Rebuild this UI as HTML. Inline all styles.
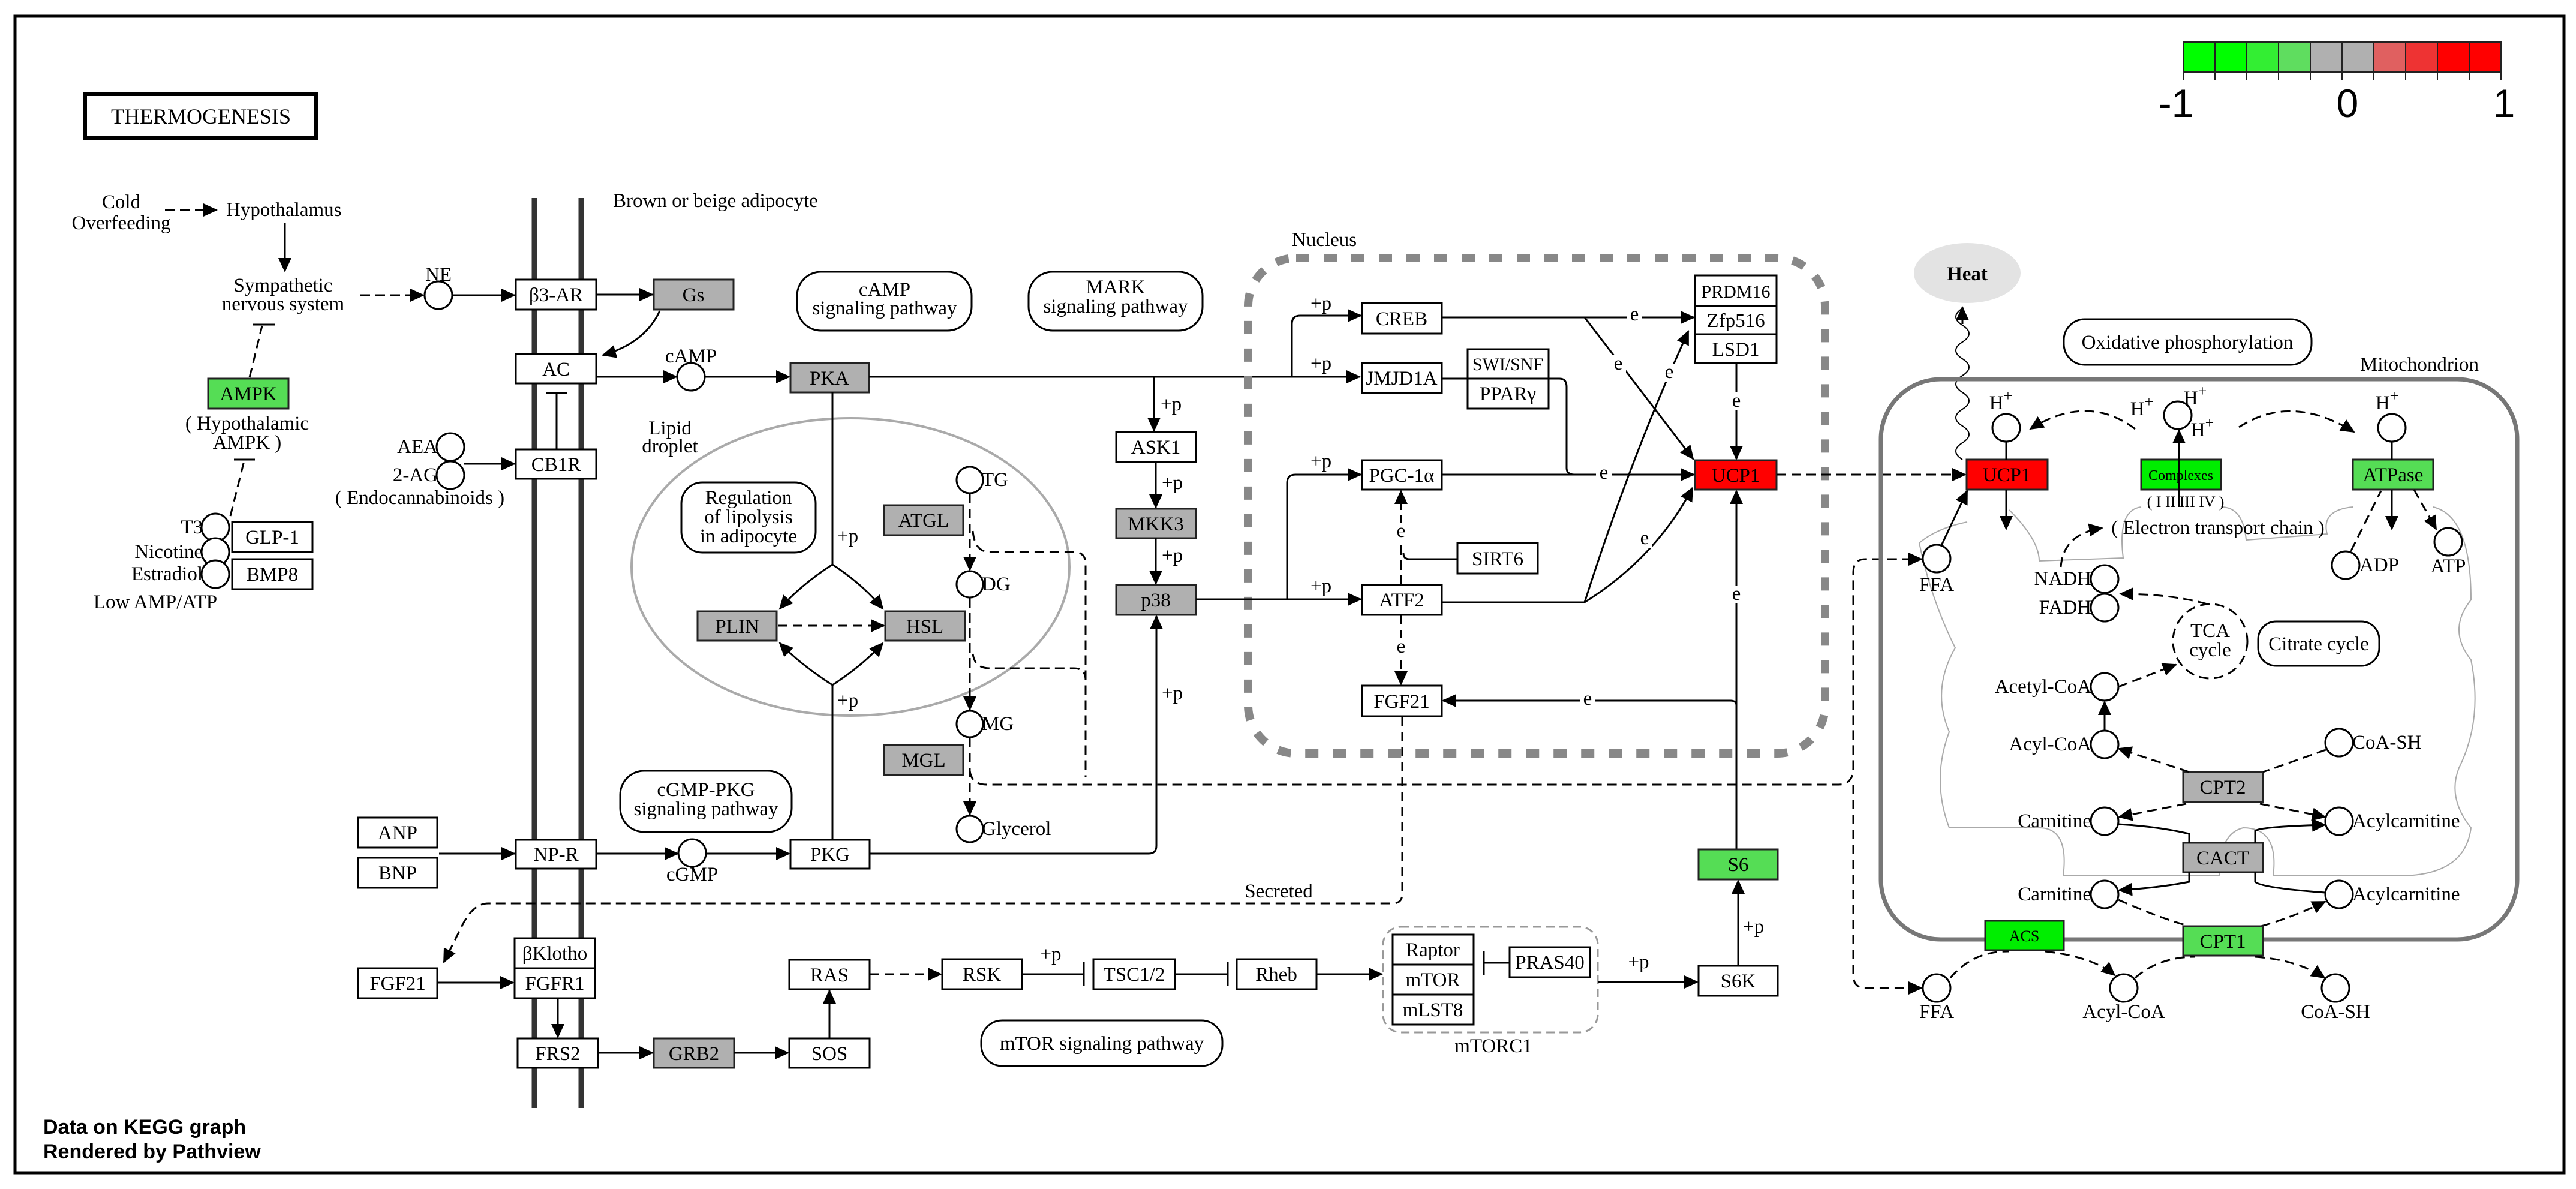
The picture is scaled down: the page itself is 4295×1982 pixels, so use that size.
<!DOCTYPE html>
<html><head><meta charset="utf-8"><style>
html,body{margin:0;padding:0;background:#fff}
svg{display:block}
text{font-family:"Liberation Serif",serif;font-size:33px;fill:#000}
.c{text-anchor:middle}
.r{text-anchor:end}
.b{fill:#fff;stroke:#000;stroke-width:3}
.g{fill:#b0b0b0;stroke:#222;stroke-width:3}
.gr{fill:#55dd55;stroke:#222;stroke-width:3}
.gb{fill:#00ee00;stroke:#222;stroke-width:3}
.rd{fill:#ff0000;stroke:#222;stroke-width:3}
.ci{fill:#fff;stroke:#000;stroke-width:3}
.rb{fill:#fff;stroke:#000;stroke-width:3}
.l{fill:none;stroke:#000;stroke-width:3}
.d{fill:none;stroke:#000;stroke-width:3;stroke-dasharray:16 9}
.bg{fill:#fff}
</style></head><body>
<svg width="4295" height="1982" viewBox="0 0 4295 1982" xmlns="http://www.w3.org/2000/svg">
<defs>
<marker id="a" markerUnits="userSpaceOnUse" markerWidth="24" markerHeight="22" refX="22" refY="11" orient="auto"><path d="M0,0 L24,11 L0,22 Z" fill="#000"/></marker>
</defs>
<rect x="0" y="0" width="4295" height="1982" fill="#fff"/>
<rect x="25" y="27" width="4250" height="1928" fill="none" stroke="#000" stroke-width="5"/>
<rect x="142" y="157" width="385" height="73" fill="#fff" stroke="#000" stroke-width="6"/>
<text x="335" y="206" class="c" style="font-size:36px">THERMOGENESIS</text>

<!-- legend -->
<g stroke="#222" stroke-width="2">
<rect x="3640" y="70" width="53" height="50" fill="#00ff00"/>
<rect x="3693" y="70" width="53" height="50" fill="#00ff00"/>
<rect x="3746" y="70" width="53" height="50" fill="#33ee33"/>
<rect x="3799" y="70" width="53" height="50" fill="#5fdd5f"/>
<rect x="3852" y="70" width="53" height="50" fill="#b0b0b0"/>
<rect x="3905" y="70" width="53" height="50" fill="#b0b0b0"/>
<rect x="3958" y="70" width="53" height="50" fill="#e06060"/>
<rect x="4011" y="70" width="53" height="50" fill="#ee3333"/>
<rect x="4064" y="70" width="53" height="50" fill="#ff0000"/>
<rect x="4117" y="70" width="53" height="50" fill="#ff0000"/>
<path d="M3640,120v14M3693,120v14M3746,120v14M3799,120v14M3852,120v14M3905,120v14M3958,120v14M4011,120v14M4064,120v14M4117,120v14M4170,120v14" fill="none"/>
</g>
<text x="3628" y="195" class="c" style="font-family:'Liberation Sans',sans-serif;font-size:66px">-1</text>
<text x="3914" y="195" class="c" style="font-family:'Liberation Sans',sans-serif;font-size:66px">0</text>
<text x="4175" y="195" class="c" style="font-family:'Liberation Sans',sans-serif;font-size:66px">1</text>

<!-- membrane -->
<path d="M891,330V1847M969,330V1847" stroke="#333" stroke-width="9" fill="none"/>
<text x="1022" y="345">Brown or beige adipocyte</text>

<!-- left region -->
<text x="202" y="347" class="c">Cold</text>
<text x="202" y="382" class="c">Overfeeding</text>
<path d="M275,350H361" class="d" marker-end="url(#a)"/>
<text x="377" y="360">Hypothalamus</text>
<path d="M475,372V452" class="l" marker-end="url(#a)"/>
<text x="472" y="486" class="c">Sympathetic</text>
<text x="472" y="517" class="c">nervous system</text>
<path d="M601,492H706" class="d" marker-end="url(#a)"/>
<circle cx="731" cy="492" r="23" class="ci"/>
<text x="731" y="468" class="c">NE</text>
<path d="M754,492H858" class="l" marker-end="url(#a)"/>
<path d="M416,629L437,543" class="d"/><path d="M421,541H458" class="l"/>
<rect x="347" y="631" width="134" height="50" class="gr"/><text x="414" y="667" class="c">AMPK</text>
<text x="412" y="716" class="c">( Hypothalamic</text>
<text x="412" y="748" class="c">AMPK )</text>
<path d="M384,860L407,768" class="d"/><path d="M390,766H425" class="l"/>
<circle cx="359" cy="879" r="23" class="ci"/><circle cx="359" cy="920" r="23" class="ci"/><circle cx="359" cy="957" r="23" class="ci"/>
<text x="338" y="889" class="r">T3</text>
<text x="338" y="930" class="r">Nicotine</text>
<text x="338" y="967" class="r">Estradiol</text>
<text x="259" y="1014" class="c">Low AMP/ATP</text>
<rect x="387" y="870" width="134" height="50" class="b"/><text x="454" y="906" class="c">GLP-1</text>
<rect x="387" y="932" width="134" height="50" class="b"/><text x="454" y="968" class="c">BMP8</text>

<rect x="860" y="466" width="134" height="50" class="b"/><text x="927" y="502" class="c">β3-AR</text>
<rect x="1090" y="466" width="133" height="50" class="g"/><text x="1156" y="502" class="c">Gs</text>
<path d="M994,491H1088" class="l" marker-end="url(#a)"/>
<path d="M1100,518Q1075,572 1005,592" class="l" marker-end="url(#a)"/>
<rect x="860" y="590" width="134" height="49" class="b"/><text x="927" y="626" class="c">AC</text>
<path d="M994,628H1128" class="l" marker-end="url(#a)"/>
<circle cx="1152" cy="628" r="23" class="ci"/><text x="1152" y="604" class="c">cAMP</text>
<path d="M1175,628H1316" class="l" marker-end="url(#a)"/>
<rect x="1318" y="605" width="131" height="49" class="g"/><text x="1383" y="641" class="c">PKA</text>
<path d="M928,749V655M910,655H946" class="l"/>
<rect x="860" y="749" width="134" height="49" class="b"/><text x="927" y="785" class="c">CB1R</text>
<circle cx="751" cy="745" r="23" class="ci"/><circle cx="751" cy="792" r="23" class="ci"/>
<text x="730" y="755" class="r">AEA</text><text x="730" y="802" class="r">2-AG</text>
<text x="700" y="840" class="c">( Endocannabinoids )</text>
<path d="M774,773H858" class="l" marker-end="url(#a)"/>

<rect x="1329" y="453" width="291" height="98" rx="40" class="rb"/>
<text x="1475" y="493" class="c">cAMP</text><text x="1475" y="524" class="c">signaling pathway</text>
<rect x="1715" y="453" width="290" height="98" rx="40" class="rb"/>
<text x="1860" y="489" class="c">MARK</text><text x="1860" y="521" class="c">signaling pathway</text>

<!-- lipid droplet -->
<ellipse cx="1418" cy="945" rx="365" ry="248" fill="none" stroke="#aaa" stroke-width="4"/>
<text x="1117" y="724" class="c">Lipid</text><text x="1117" y="754" class="c">droplet</text>
<rect x="1136" y="804" width="224" height="117" rx="35" class="rb"/>
<text x="1248" y="840" class="c">Regulation</text><text x="1248" y="872" class="c">of lipolysis</text><text x="1248" y="904" class="c">in adipocyte</text>
<path d="M1388,654V941" class="l"/>
<path d="M1388,941Q1335,975 1300,1015" class="l" marker-end="url(#a)"/>
<path d="M1388,941Q1440,975 1472,1015" class="l" marker-end="url(#a)"/>
<text x="1396" y="904">+p</text>
<path d="M1388,1400V1142" class="l"/>
<path d="M1388,1142Q1335,1108 1300,1072" class="l" marker-end="url(#a)"/>
<path d="M1388,1142Q1440,1108 1472,1072" class="l" marker-end="url(#a)"/>
<text x="1396" y="1178">+p</text>
<rect x="1163" y="1019" width="132" height="49" class="g"/><text x="1229" y="1055" class="c">PLIN</text>
<rect x="1476" y="1019" width="133" height="49" class="g"/><text x="1542" y="1055" class="c">HSL</text>
<path d="M1297,1043H1474" class="d" marker-end="url(#a)"/>
<rect x="1474" y="842" width="132" height="50" class="g"/><text x="1540" y="878" class="c">ATGL</text>
<rect x="1474" y="1242" width="132" height="50" class="g"/><text x="1540" y="1278" class="c">MGL</text>
<circle cx="1617" cy="800" r="22" class="ci"/><text x="1637" y="810">TG</text>
<circle cx="1617" cy="974" r="22" class="ci"/><text x="1637" y="984">DG</text>
<circle cx="1617" cy="1207" r="22" class="ci"/><text x="1637" y="1217">MG</text>
<circle cx="1617" cy="1382" r="22" class="ci"/><text x="1637" y="1392">Glycerol</text>
<path d="M1617,823V950" class="d" marker-end="url(#a)"/>
<path d="M1617,997V1183" class="d" marker-end="url(#a)"/>
<path d="M1617,1230V1358" class="d" marker-end="url(#a)"/>
<path d="M1622,885Q1625,920 1650,920H1790Q1810,920 1810,940V1295" class="d"/>
<path d="M1622,1090Q1625,1114 1650,1114H1790Q1810,1114 1810,1134" class="d"/>
<path d="M1617,1285Q1620,1308 1645,1308H3065Q3090,1308 3090,1280V955Q3090,932 3110,932H3204" class="d" marker-end="url(#a)"/>
<path d="M3090,1308V1625Q3090,1647 3110,1647H3204" class="d" marker-end="url(#a)"/>

<!-- MAPK chain -->
<path d="M1449,628H2267" class="l" marker-end="url(#a)"/>
<path d="M1924,628V718" class="l" marker-end="url(#a)"/><text x="1935" y="684">+p</text>
<rect x="1861" y="720" width="133" height="50" class="b"/><text x="1927" y="756" class="c">ASK1</text>
<path d="M1927,770V846" class="l" marker-end="url(#a)"/><text x="1937" y="815">+p</text>
<rect x="1861" y="848" width="133" height="49" class="g"/><text x="1927" y="884" class="c">MKK3</text>
<path d="M1927,897V973" class="l" marker-end="url(#a)"/><text x="1937" y="936">+p</text>
<rect x="1861" y="975" width="133" height="50" class="g"/><text x="1927" y="1011" class="c">p38</text>
<path d="M1450,1423H1915Q1928,1423 1928,1410V1027" class="l" marker-end="url(#a)"/><text x="1937" y="1166">+p</text>

<!-- nucleus -->
<rect x="2081" y="430" width="962" height="826" rx="80" fill="none" stroke="#888" stroke-width="14" stroke-dasharray="22 24"/>
<text x="2154" y="410">Nucleus</text>
<path d="M2154,628V540Q2154,526 2168,526H2269" class="l" marker-end="url(#a)"/>
<text x="2185" y="516">+p</text><text x="2185" y="616">+p</text>
<path d="M1994,999H2269" class="l" marker-end="url(#a)"/>
<path d="M2146,999V805Q2146,791 2160,791H2269" class="l" marker-end="url(#a)"/>
<text x="2185" y="779">+p</text><text x="2185" y="987">+p</text>
<rect x="2271" y="505" width="133" height="51" class="b"/><text x="2337" y="542" class="c">CREB</text>
<rect x="2271" y="605" width="133" height="50" class="b"/><text x="2337" y="641" class="c">JMJD1A</text>
<rect x="2271" y="767" width="133" height="49" class="b"/><text x="2337" y="803" class="c">PGC-1α</text>
<rect x="2271" y="975" width="133" height="50" class="b"/><text x="2337" y="1011" class="c">ATF2</text>
<rect x="2271" y="1143" width="133" height="51" class="b"/><text x="2337" y="1180" class="c">FGF21</text>
<rect x="2447" y="582" width="135" height="49" class="b"/><text x="2514" y="617" class="c" style="font-size:30px">SWI/SNF</text>
<rect x="2447" y="631" width="135" height="50" class="b"/><text x="2514" y="667" class="c">PPARγ</text>
<rect x="2430" y="905" width="134" height="51" class="b"/><text x="2497" y="942" class="c">SIRT6</text>
<rect x="2826" y="459" width="136" height="51" class="b"/><text x="2894" y="496" class="c" style="font-size:30px">PRDM16</text>
<rect x="2826" y="510" width="136" height="47" class="b"/><text x="2894" y="545" class="c">Zfp516</text>
<rect x="2826" y="557" width="136" height="48" class="b"/><text x="2894" y="593" class="c">LSD1</text>
<rect x="2826" y="767" width="136" height="49" class="rd"/><text x="2894" y="803" class="c">UCP1</text>
<path d="M2404,529H2824" class="l" marker-end="url(#a)"/>
<path d="M2642,529L2823,765" class="l" marker-end="url(#a)"/>
<path d="M2404,631H2447M2582,631H2600Q2612,631 2612,645V780Q2612,791 2625,791" class="l"/>
<path d="M2404,791H2824" class="l" marker-end="url(#a)"/>
<path d="M2404,1004H2642Q2720,760 2815,552" class="l" marker-end="url(#a)"/>
<path d="M2642,1004Q2760,930 2822,813" class="l" marker-end="url(#a)"/>
<path d="M2895,605V765" class="l" marker-end="url(#a)"/>
<path d="M2336,1025V1141" class="d" marker-end="url(#a)"/>
<path d="M2336,975V818" class="d" marker-end="url(#a)"/>
<path d="M2430,932H2350Q2340,932 2340,922" class="l"/>
<path d="M2895,1416V818" class="l" marker-end="url(#a)"/>
<path d="M2895,1176Q2895,1168 2885,1168H2406" class="l" marker-end="url(#a)"/>
<g>
<rect x="2712" y="510" width="26" height="30" class="bg"/><text x="2725" y="534" class="c">e</text>
<rect x="2685" y="592" width="26" height="30" class="bg"/><text x="2698" y="616" class="c">e</text>
<rect x="2661" y="774" width="26" height="30" class="bg"/><text x="2674" y="798" class="c">e</text>
<rect x="2770" y="606" width="26" height="30" class="bg"/><text x="2783" y="630" class="c">e</text>
<rect x="2729" y="883" width="26" height="30" class="bg"/><text x="2742" y="907" class="c">e</text>
<rect x="2882" y="654" width="26" height="30" class="bg"/><text x="2895" y="678" class="c">e</text>
<rect x="2882" y="976" width="26" height="30" class="bg"/><text x="2895" y="1000" class="c">e</text>
<rect x="2634" y="1151" width="26" height="30" class="bg"/><text x="2647" y="1175" class="c">e</text>
<rect x="2323" y="871" width="26" height="30" class="bg"/><text x="2336" y="895" class="c">e</text>
<rect x="2323" y="1064" width="26" height="30" class="bg"/><text x="2336" y="1088" class="c">e</text>
</g>
<path d="M2962,791H3277" class="d" marker-end="url(#a)"/>

<!-- secreted -->
<path d="M2338,1195V1490Q2338,1506 2322,1506H814Q790,1506 772,1540L740,1604" class="d" marker-end="url(#a)"/>
<text x="2132" y="1496" class="c">Secreted</text>

<!-- lower left -->
<rect x="1034" y="1285" width="286" height="102" rx="40" class="rb"/>
<text x="1177" y="1327" class="c">cGMP-PKG</text><text x="1177" y="1359" class="c">signaling pathway</text>
<rect x="597" y="1363" width="132" height="50" class="b"/><text x="663" y="1399" class="c">ANP</text>
<rect x="597" y="1430" width="132" height="50" class="b"/><text x="663" y="1466" class="c">BNP</text>
<path d="M732,1423H858" class="l" marker-end="url(#a)"/>
<rect x="860" y="1400" width="134" height="48" class="b"/><text x="927" y="1435" class="c">NP-R</text>
<path d="M994,1423H1130" class="l" marker-end="url(#a)"/>
<circle cx="1154" cy="1422" r="23" class="ci"/><text x="1154" y="1468" class="c">cGMP</text>
<path d="M1177,1423H1316" class="l" marker-end="url(#a)"/>
<rect x="1318" y="1400" width="132" height="48" class="b"/><text x="1384" y="1435" class="c">PKG</text>
<rect x="858" y="1564" width="134" height="50" class="b"/><text x="925" y="1600" class="c">βKlotho</text>
<rect x="858" y="1614" width="134" height="50" class="b"/><text x="925" y="1650" class="c">FGFR1</text>
<rect x="597" y="1614" width="132" height="50" class="b"/><text x="663" y="1650" class="c">FGF21</text>
<path d="M729,1638H856" class="l" marker-end="url(#a)"/>
<path d="M930,1664V1729" class="l" marker-end="url(#a)"/>
<rect x="863" y="1731" width="134" height="49" class="b"/><text x="930" y="1767" class="c">FRS2</text>
<path d="M997,1755H1088" class="l" marker-end="url(#a)"/>
<rect x="1090" y="1731" width="134" height="49" class="g"/><text x="1157" y="1767" class="c">GRB2</text>
<path d="M1224,1755H1314" class="l" marker-end="url(#a)"/>
<rect x="1316" y="1731" width="134" height="49" class="b"/><text x="1383" y="1767" class="c">SOS</text>
<path d="M1383,1731V1651" class="l" marker-end="url(#a)"/>
<rect x="1316" y="1600" width="134" height="49" class="b"/><text x="1383" y="1636" class="c">RAS</text>
<path d="M1450,1624H1569" class="d" marker-end="url(#a)"/>
<rect x="1571" y="1599" width="133" height="50" class="b"/><text x="1637" y="1635" class="c">RSK</text>
<path d="M1704,1624H1807M1807,1604V1644" class="l"/><text x="1752" y="1601" class="c">+p</text>
<rect x="1823" y="1599" width="136" height="50" class="b"/><text x="1891" y="1635" class="c">TSC1/2</text>
<path d="M1959,1624H2047M2047,1604V1644" class="l"/>
<rect x="2062" y="1599" width="133" height="50" class="b"/><text x="2128" y="1635" class="c">Rheb</text>
<path d="M2195,1624H2304" class="l" marker-end="url(#a)"/>
<rect x="2306" y="1545" width="358" height="176" rx="30" fill="none" stroke="#999" stroke-width="3" stroke-dasharray="14 8"/>
<text x="2490" y="1754" class="c">mTORC1</text>
<rect x="2322" y="1558" width="135" height="50" class="b"/><text x="2389" y="1594" class="c">Raptor</text>
<rect x="2322" y="1608" width="135" height="50" class="b"/><text x="2389" y="1644" class="c">mTOR</text>
<rect x="2322" y="1658" width="135" height="50" class="b"/><text x="2389" y="1694" class="c">mLST8</text>
<rect x="2517" y="1579" width="134" height="50" class="b"/><text x="2584" y="1615" class="c">PRAS40</text>
<path d="M2517,1605H2474M2474,1585V1625" class="l"/>
<path d="M2664,1637H2830" class="l" marker-end="url(#a)"/><text x="2732" y="1614" class="c">+p</text>
<rect x="2832" y="1610" width="132" height="50" class="b"/><text x="2898" y="1646" class="c">S6K</text>
<path d="M2898,1610V1468" class="l" marker-end="url(#a)"/><text x="2906" y="1555">+p</text>
<rect x="2832" y="1416" width="132" height="50" class="gr"/><text x="2898" y="1452" class="c">S6</text>
<rect x="1636" y="1701" width="402" height="76" rx="35" class="rb"/>
<text x="1837" y="1750" class="c">mTOR signaling pathway</text>

<!-- mitochondrion -->
<ellipse cx="3280" cy="455" rx="89" ry="50" fill="#e3e3e3"/>
<text x="3280" y="467" class="c" style="font-weight:bold">Heat</text>
<path d="M3272,766q-22,-14 0,-28q22,-14 0,-28q-22,-14 0,-28q22,-14 0,-28q-22,-14 0,-28q22,-14 0,-28q-22,-14 0,-28q22,-14 0,-28q-22,-14 0,-28" class="l" style="stroke-width:2"/>
<path d="M3272,540V512" class="l" marker-end="url(#a)"/>
<rect x="3441" y="532" width="413" height="76" rx="35" class="rb"/>
<text x="3647" y="581" class="c">Oxidative phosphorylation</text>
<text x="3935" y="618">Mitochondrion</text>
<rect x="3136" y="632" width="1061" height="934" rx="100" fill="none" stroke="#777" stroke-width="7"/>
<path d="M3200,905Q3230,880 3280,870M3350,850Q3400,900 3400,935L3540,930Q3530,850 3570,845M3703,845Q3740,845 3745,900L3880,890Q3870,850 3923,845M4057,845Q4120,860 4120,1000Q4080,1050 4120,1100Q4140,1200 4100,1280Q4080,1330 4120,1380Q4110,1460 4000,1460L3790,1460Q3800,1380 3740,1380Q3700,1390 3700,1460L3440,1460Q3450,1380 3400,1380L3250,1380Q3220,1300 3250,1220Q3220,1150 3260,1080Q3220,1000 3200,905" fill="none" stroke="#aaa" stroke-width="2"/>
<rect x="3279" y="766" width="135" height="50" class="rd"/><text x="3346" y="802" class="c">UCP1</text>
<rect x="3570" y="766" width="133" height="50" class="gb"/><text x="3636" y="800" class="c" style="font-size:24px">Complexes</text>
<rect x="3923" y="766" width="134" height="50" class="gr"/><text x="3990" y="802" class="c">ATPase</text>
<text x="3644" y="845" class="c" style="font-size:26px">( I II III IV )</text>
<text x="3698" y="890" class="c">( Electron transport  chain )</text>
<circle cx="3345" cy="713" r="23" class="ci"/><circle cx="3631" cy="692" r="23" class="ci"/><circle cx="3988" cy="713" r="23" class="ci"/>
<path d="M3345,736V766M3988,736V766" class="l"/>
<text x="3336" y="682" class="c">H<tspan dy="-14" style="font-size:26px">+</tspan></text>
<text x="3980" y="682" class="c">H<tspan dy="-14" style="font-size:26px">+</tspan></text>
<text x="3571" y="692" class="c">H<tspan dy="-14" style="font-size:26px">+</tspan></text>
<text x="3660" y="674" class="c">H<tspan dy="-14" style="font-size:26px">+</tspan></text>
<text x="3672" y="727" class="c">H<tspan dy="-14" style="font-size:26px">+</tspan></text>
<path d="M3633,845V717" class="l" marker-end="url(#a)"/>
<path d="M3560,715Q3480,655 3385,715" class="d" marker-end="url(#a)"/>
<path d="M3733,712Q3820,655 3925,720" class="d" marker-end="url(#a)"/>
<path d="M3345,816V882" class="l" marker-end="url(#a)"/>
<path d="M3988,816V882" class="l" marker-end="url(#a)"/>
<path d="M4025,816L4062,882" class="d" marker-end="url(#a)"/>
<path d="M3920,918L3970,818" class="d"/>
<circle cx="3911" cy="942" r="23" class="ci"/><text x="3934" y="952">ADP</text>
<circle cx="4082" cy="903" r="23" class="ci"/><text x="4082" y="954" class="c">ATP</text>
<circle cx="3229" cy="931" r="23" class="ci"/><text x="3229" y="985" class="c">FFA</text>
<path d="M3237,909L3280,818" class="l" marker-end="url(#a)"/>
<circle cx="3509" cy="965" r="23" class="ci"/><circle cx="3509" cy="1013" r="23" class="ci"/>
<text x="3487" y="975" class="r">NADH</text><text x="3487" y="1023" class="r">FADH</text>
<path d="M3436,945Q3440,890 3505,880" class="d" marker-end="url(#a)"/>
<circle cx="3685" cy="1069" r="62" fill="none" stroke="#000" stroke-width="3" stroke-dasharray="16 9"/>
<text x="3685" y="1062" class="c">TCA</text><text x="3685" y="1094" class="c">cycle</text>
<rect x="3765" y="1036" width="202" height="74" rx="30" class="rb"/><text x="3866" y="1084" class="c">Citrate cycle</text>
<path d="M3680,1007Q3620,990 3535,990" class="d" marker-end="url(#a)"/>
<circle cx="3509" cy="1145" r="23" class="ci"/><text x="3487" y="1155" class="r">Acetyl-CoA</text>
<path d="M3532,1145L3628,1108" class="d" marker-end="url(#a)"/>
<circle cx="3509" cy="1241" r="23" class="ci"/><text x="3487" y="1251" class="r">Acyl-CoA</text>
<path d="M3509,1218V1170" class="l" marker-end="url(#a)"/>
<circle cx="3900" cy="1238" r="23" class="ci"/><text x="3922" y="1248">CoA-SH</text>
<rect x="3640" y="1287" width="133" height="50" class="g"/><text x="3706" y="1323" class="c">CPT2</text>
<path d="M3878,1250L3773,1287" class="d"/>
<path d="M3650,1287L3532,1248" class="d" marker-end="url(#a)"/>
<circle cx="3509" cy="1369" r="23" class="ci"/><text x="3487" y="1379" class="r">Carnitine</text>
<circle cx="3900" cy="1369" r="23" class="ci"/><text x="3922" y="1379">Acylcarnitine</text>
<path d="M3645,1340L3533,1362" class="d" marker-end="url(#a)"/>
<path d="M3768,1340L3877,1362" class="d" marker-end="url(#a)"/>
<rect x="3640" y="1405" width="133" height="49" class="g"/><text x="3706" y="1441" class="c">CACT</text>
<path d="M3650,1405L3650,1390Q3600,1378 3532,1374" class="l"/>
<path d="M3760,1405V1385Q3770,1378 3877,1375" class="l" marker-end="url(#a)"/>
<circle cx="3509" cy="1491" r="23" class="ci"/><text x="3487" y="1501" class="r">Carnitine</text>
<circle cx="3900" cy="1491" r="23" class="ci"/><text x="3922" y="1501">Acylcarnitine</text>
<path d="M3650,1454V1470Q3600,1480 3533,1484" class="l" marker-end="url(#a)"/>
<path d="M3760,1454V1470Q3770,1480 3877,1488" class="l"/>
<path d="M3532,1500Q3600,1530 3650,1544" class="d"/>
<path d="M3770,1544Q3820,1530 3877,1503" class="d" marker-end="url(#a)"/>
<rect x="3310" y="1535" width="131" height="49" class="gb"/><text x="3375" y="1569" class="c" style="font-size:26px">ACS</text>
<rect x="3640" y="1544" width="133" height="49" class="gr"/><text x="3706" y="1580" class="c">CPT1</text>
<circle cx="3229" cy="1647" r="23" class="ci"/><text x="3229" y="1697" class="c">FFA</text>
<circle cx="3541" cy="1647" r="23" class="ci"/><text x="3541" y="1697" class="c">Acyl-CoA</text>
<circle cx="3894" cy="1647" r="23" class="ci"/><text x="3894" y="1697" class="c">CoA-SH</text>
<path d="M3252,1630Q3290,1585 3350,1586" class="d"/>
<path d="M3410,1586Q3490,1595 3526,1626" class="d" marker-end="url(#a)"/>
<path d="M3560,1630Q3600,1595 3660,1595" class="d"/>
<path d="M3760,1595Q3830,1600 3876,1630" class="d" marker-end="url(#a)"/>

<text x="72" y="1890" style="font-family:'Liberation Sans',sans-serif;font-weight:bold;font-size:34px">Data on KEGG graph</text>
<text x="72" y="1931" style="font-family:'Liberation Sans',sans-serif;font-weight:bold;font-size:34px">Rendered by Pathview</text>
</svg>
</body></html>
